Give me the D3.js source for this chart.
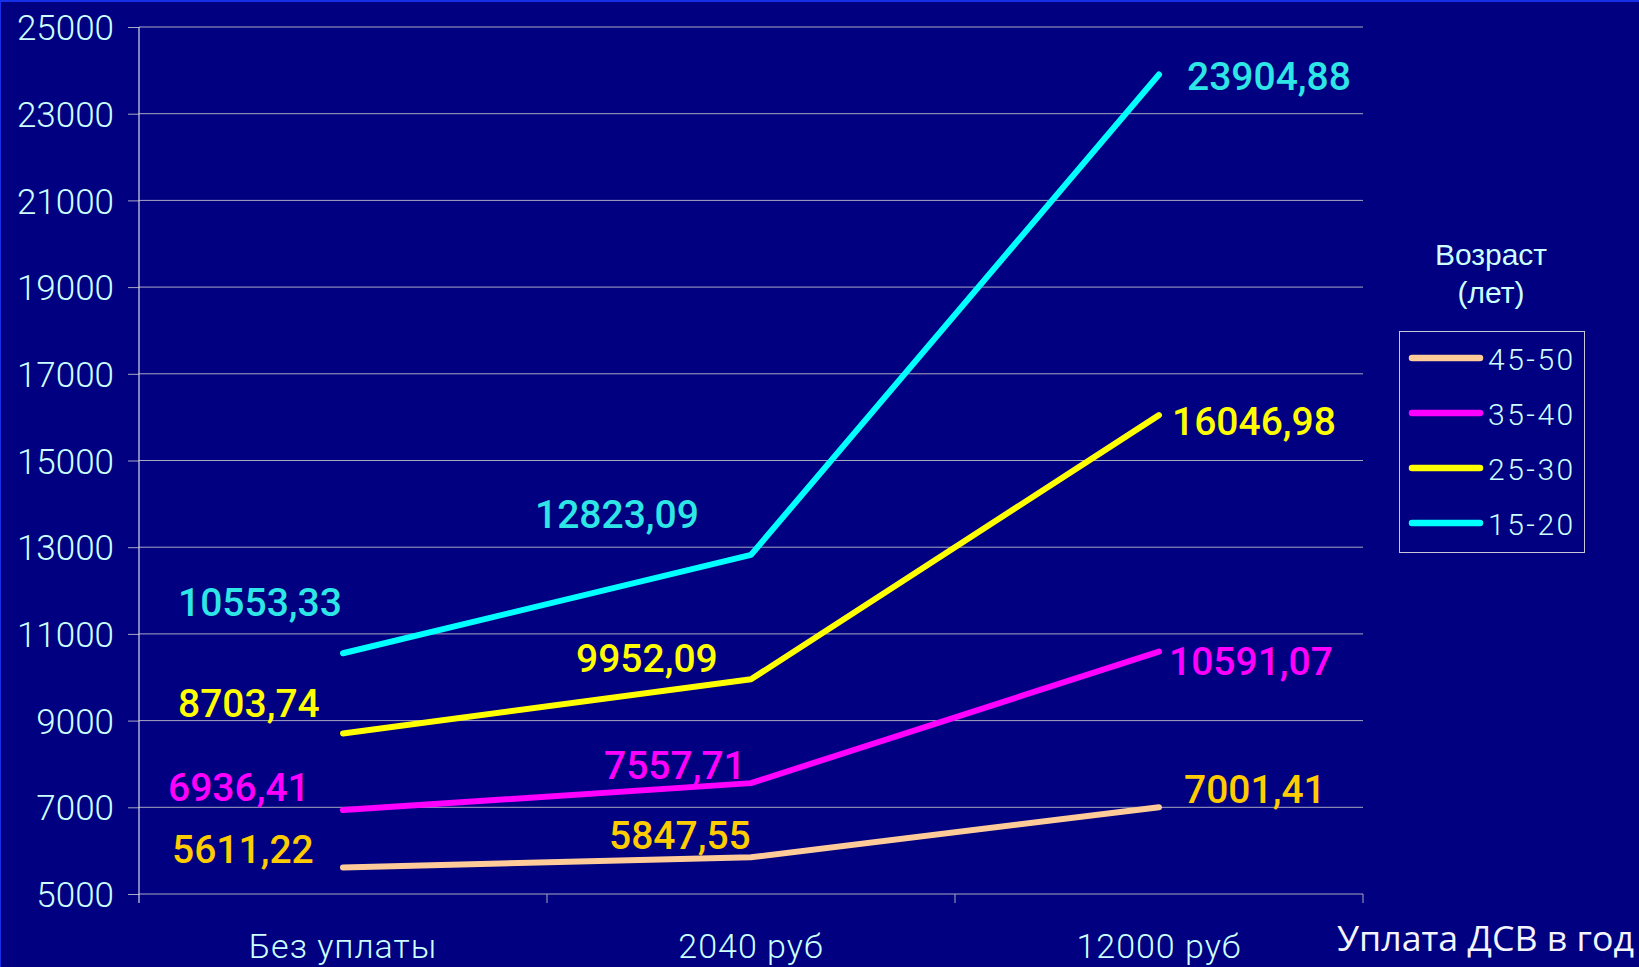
<!DOCTYPE html>
<html>
<head>
<meta charset="utf-8">
<script src="https://cdn.jsdelivr.net/npm/d3@7"></script>
<style>
  html, body { margin: 0; padding: 0; background: #000080; }
  svg { display: block; }
</style>
</head>
<body>
<svg id="chart" width="1639" height="967"></svg>
<script>
// ---- data ----
const categories = ["Без уплаты", "2040 руб", "12000 руб"];
const seriesNames = ["45-50", "35-40", "25-30", "15-20"];
const values4550 = [5611.22, 5847.55, 7001.41];
const values3540 = [6936.41, 7557.71, 10591.07];
const values2530 = [8703.74, 9952.09, 16046.98];
const values1520 = [10553.33, 12823.09, 23904.88];
const yTicks = [5000, 7000, 9000, 11000, 13000, 15000, 17000, 19000, 21000, 23000, 25000];
const legendTitle = ["Возраст", "(лет)"];
const xAxisTitle = "Уплата ДСВ в год";

// ---- styling / layout ----
const W = 1639, H = 967;
const plot = { left: 139, right: 1363, top: 27, bottom: 894 };
const lineColors = ["#ffcc99", "#ff00ff", "#ffff00", "#00ffff"];
const labelColors = ["#ffcc00", "#ff00ff", "#ffff00", "#2ee6e6"];
// label offsets (dx, dy) relative to each point, per series per category
const labelOffsets = [
  [[-171, -5], [-142, -8], [25, -4]],
  [[-175, -9], [-147, -4], [10, 23]],
  [[-165, -16], [-175, -7], [13, 20]],
  [[-165, -37], [-216, -27], [28, 16]]
];

const allSeries = [values4550, values3540, values2530, values1520];
const fmt = v => v.toFixed(2).replace(".", ",");

const svg = d3.select("#chart");
svg.append("rect").attr("width", W).attr("height", H).attr("fill", "#000080");
svg.append("path").attr("d", `M0,${H} V1 H${W}`).attr("fill", "none")
  .attr("stroke", "#1a3cff").attr("stroke-width", 2).attr("opacity", 0.8);

const x = d3.scaleBand().domain(categories).range([plot.left, plot.right]).padding(0);
const y = d3.scaleLinear().domain([5000, 25000]).range([plot.bottom, plot.top]);
const cx = c => x(c) + x.bandwidth() / 2;

// y axis ticks + labels
const yAxis = d3.axisLeft(y).tickValues(yTicks).tickSize(11).tickFormat(d3.format("d"));
const gy = svg.append("g").attr("transform", `translate(${plot.left},0)`).call(yAxis);
gy.select(".domain").remove();
gy.selectAll(".tick line").attr("stroke", "#a8a8c0").attr("stroke-width", 1);
gy.selectAll(".tick text")
  .attr("x", -25).attr("dy", "0.36em")
  .attr("fill", "#ccffff")
  .style("font-family", "Roboto, 'Liberation Sans', Arial, sans-serif")
  .style("font-weight", "300")
  .style("font-size", "35px");

// gridlines
svg.append("g").selectAll("line").data(yTicks).join("line")
  .attr("x1", plot.left).attr("x2", plot.right)
  .attr("y1", d => y(d)).attr("y2", d => y(d))
  .attr("stroke", "#a8a8c0").attr("stroke-width", 1);

// y axis vertical line
svg.append("line").attr("x1", plot.left).attr("x2", plot.left)
  .attr("y1", plot.top).attr("y2", plot.bottom + 9)
  .attr("stroke", "#d8d8e8").attr("stroke-width", 1.2);

// x axis ticks (at band boundaries)
const boundaries = categories.map(c => x(c)).concat([plot.right]);
svg.append("g").selectAll("line").data(boundaries.slice(1)).join("line")
  .attr("x1", d => d).attr("x2", d => d)
  .attr("y1", plot.bottom).attr("y2", plot.bottom + 9)
  .attr("stroke", "#a8a8c0").attr("stroke-width", 1);

// x category labels
svg.append("g").selectAll("text").data(categories).join("text")
  .attr("x", d => cx(d)).attr("y", 958)
  .attr("text-anchor", "middle")
  .attr("fill", "#ccffff")
  .style("font-family", "Roboto, 'Liberation Sans', Arial, sans-serif")
  .style("font-weight", "300")
  .style("font-size", "34px")
  .style("letter-spacing", "1px")
  .text(d => d);

// x axis title
svg.append("text").attr("x", 1634).attr("y", 951)
  .attr("text-anchor", "end")
  .attr("fill", "#f4f4ff")
  .style("font-family", "'Open Sans', 'DejaVu Sans', sans-serif")
  .style("font-size", "34px")
  .attr("textLength", 297)
  .attr("lengthAdjust", "spacingAndGlyphs")
  .text(xAxisTitle);

// lines
const lineGen = d3.line().x((d, i) => cx(categories[i])).y(d => y(d));
svg.append("g").selectAll("path").data(allSeries).join("path")
  .attr("d", d => lineGen(d))
  .attr("fill", "none")
  .attr("stroke", (d, i) => lineColors[i])
  .attr("stroke-width", 6)
  .attr("stroke-linecap", "round")
  .attr("stroke-linejoin", "round");

// data labels
allSeries.forEach((vals, si) => {
  svg.append("g").selectAll("text").data(vals).join("text")
    .attr("x", (d, i) => cx(categories[i]) + labelOffsets[si][i][0])
    .attr("y", (d, i) => y(d) + labelOffsets[si][i][1])
    .attr("fill", labelColors[si])
    .style("font-family", "Roboto, 'Liberation Sans', Arial, sans-serif")
    .style("font-size", "39px")
    .style("font-weight", "500")
    .text(d => fmt(d));
});

// legend title
svg.append("g").selectAll("text").data(legendTitle).join("text")
  .attr("x", 1491).attr("y", (d, i) => 265 + i * 38)
  .attr("text-anchor", "middle")
  .attr("fill", "#ccffff")
  .style("font-family", "'Liberation Sans', Arial, sans-serif")
  .style("font-size", "30px")
  .text(d => d);

// legend box
svg.append("rect").attr("x", 1399.5).attr("y", 331.5).attr("width", 185).attr("height", 221)
  .attr("fill", "none").attr("stroke", "#c8c8d8").attr("stroke-width", 1);

const lg = svg.append("g").selectAll("g").data(seriesNames).join("g")
  .attr("transform", (d, i) => `translate(1410,${358 + i * 55})`);
lg.append("line").attr("x1", 2).attr("x2", 70).attr("y1", 0).attr("y2", 0)
  .attr("stroke", (d, i) => lineColors[i]).attr("stroke-width", 6.5)
  .attr("stroke-linecap", "round");
lg.append("text").attr("x", 78).attr("y", 12)
  .attr("fill", "#ccffff")
  .style("font-family", "Roboto, 'Liberation Sans', Arial, sans-serif")
  .style("font-weight", "300")
  .style("font-size", "30px")
  .style("letter-spacing", "2.5px")
  .text(d => d);
</script>
</body>
</html>
